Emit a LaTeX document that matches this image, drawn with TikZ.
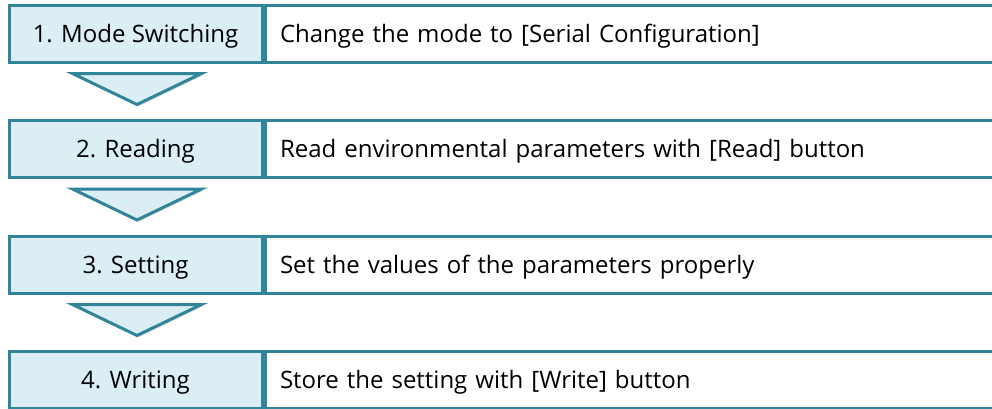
\documentclass[tikz,border=0pt]{standalone}
\usepackage{fontspec}
\setmainfont{Open Sans}
\usetikzlibrary{shadows}

\definecolor{tealline}{RGB}{49,133,155}
\definecolor{lightfill}{RGB}{219,238,244}

\begin{document}
\begin{tikzpicture}[x=1pt,y=-1pt,
    stepname/.style={draw=tealline, fill=lightfill, line width=3pt, minimum width=253pt, minimum height=57pt, inner sep=0pt, text height=21.6pt, text depth=4pt, font=\fontsize{24}{28}\selectfont},
    stepdesc/.style={draw=tealline, fill=white, line width=3pt, anchor=west, text width=712pt, inner xsep=15pt, inner ysep=0pt, text height=21.6pt, text depth=4pt, minimum height=57pt, align=left, font=\fontsize{24}{28}\selectfont},
    downarrow/.style={draw=tealline, fill=lightfill, line width=3pt, line join=miter, drop shadow={opacity=0.25, shadow xshift=1.5pt, shadow yshift=-2pt}}]
    \useasboundingbox (0,0) rectangle (992,408);
                % steps
                \node[stepname] (s1) at (135.5,33.5) {1. Mode Switching};
                \node[stepdesc] (d1) at (s1.east) {Change the mode to [Serial Configuration]};
                \node[stepname] (s2) at (135.5,149) {2. Reading};
                \node[stepdesc] (d2) at (s2.east) {Read environmental parameters with [Read] button};
                \node[stepname] (s3) at (135.5,264.5) {3. Setting};
                \node[stepdesc] (d3) at (s3.east) {Set the values of the parameters properly};
                \node[stepname] (s4) at (135.5,379.5) {4. Writing};
                \node[stepdesc] (d4) at (s4.east) {Store the setting with [Write] button};
                % arrows between steps
                \foreach \a in {1,2,3}{
                    \draw[downarrow] ([xshift=-63pt,yshift=-10pt]s\a.south) -- ([xshift=66pt,yshift=-10pt]s\a.south) -- ([xshift=1.5pt,yshift=-41pt]s\a.south) -- cycle;
                }
            \end{tikzpicture}
\end{document}
